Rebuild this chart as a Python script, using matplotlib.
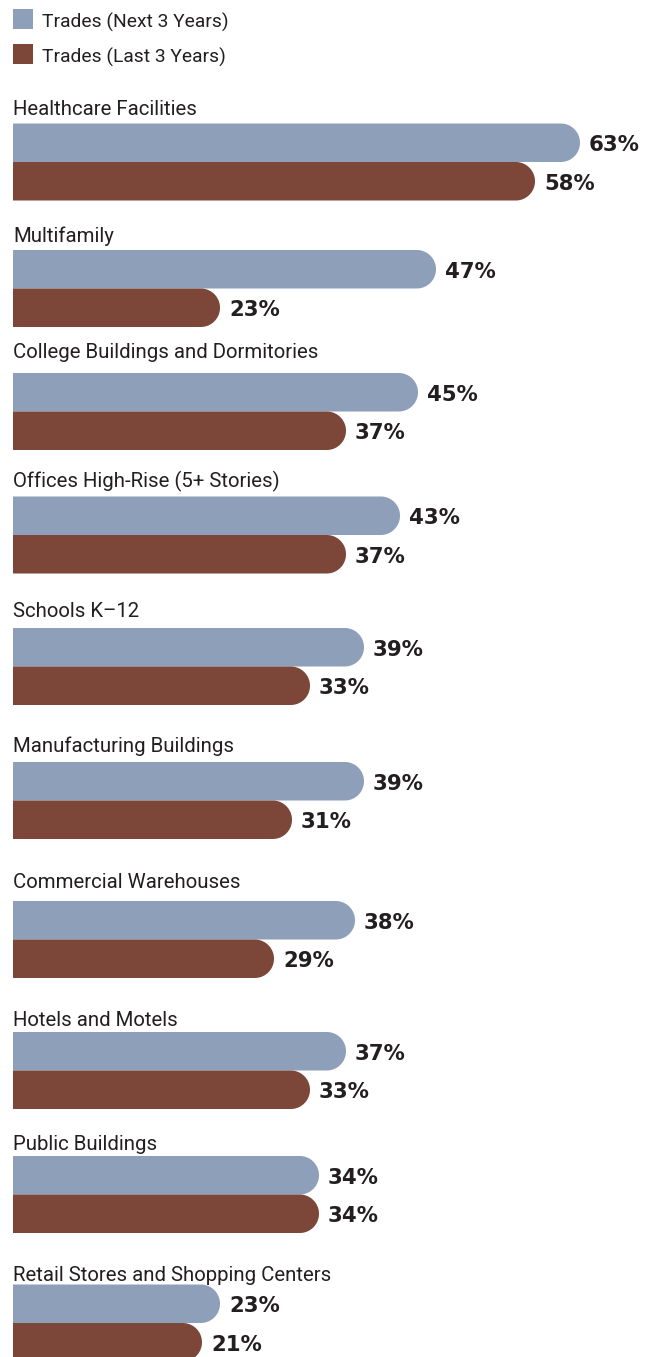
import matplotlib
matplotlib.use("Agg")
import matplotlib.pyplot as plt
from matplotlib.patches import Polygon, Rectangle
import numpy as np

# ---- data ----
categories = [
    "Healthcare Facilities",
    "Multifamily",
    "College Buildings and Dormitories",
    "Offices High-Rise (5+ Stories)",
    "Schools K\u201312",
    "Manufacturing Buildings",
    "Commercial Warehouses",
    "Hotels and Motels",
    "Public Buildings",
    "Retail Stores and Shopping Centers",
]
next_3_years = [63, 47, 45, 43, 39, 39, 38, 37, 34, 23]
last_3_years = [58, 23, 37, 37, 33, 31, 29, 33, 34, 21]
series_names = ["Trades (Next 3 Years)", "Trades (Last 3 Years)"]

# ---- layout (pixels) ----
W, H = 654, 1357
X0 = 13
PX_PER_PCT = 9.0
BAR_H = 38.5
bar_tops = [123.5, 250, 373, 496.5, 628, 762, 901, 1032, 1156, 1284.5]
label_baselines = [115, 242, 358, 487, 617, 752, 888, 1026, 1150, 1281]

BLUE = "#8E9FBA"
BROWN = "#7C4739"
TXT = "#231F20"

fig = plt.figure(figsize=(W / 100, H / 100), dpi=100)
fig.patch.set_facecolor("white")

# pixel-coordinate axes for layout text
pax = fig.add_axes([0, 0, 1, 1])
pax.set_xlim(0, W)
pax.set_ylim(H, 0)
pax.axis("off")

# data axes for bars (x in percent)
ax = fig.add_axes([0, 0, 1, 1])
ax.set_xlim(-X0 / PX_PER_PCT, (W - X0) / PX_PER_PCT)
ax.set_ylim(H, 0)
ax.axis("off")
ax.patch.set_alpha(0)

label_font = ["Roboto", "DejaVu Sans"]
rx = (BAR_H / 2) / PX_PER_PCT  # radius in percent units
ry = BAR_H / 2


def rounded_bar(value, top, color):
    theta = np.linspace(-np.pi / 2, np.pi / 2, 60)
    cx = value - rx
    cy = top + ry
    arc = np.column_stack([cx + rx * np.cos(theta), cy + ry * np.sin(theta)])
    pts = np.vstack([[0, top], arc, [0, top + BAR_H]])
    ax.add_patch(Polygon(pts, closed=True, facecolor=color, edgecolor="none"))


for i, cat in enumerate(categories):
    top = bar_tops[i]
    for j, (vals, color) in enumerate([(next_3_years, BLUE), (last_3_years, BROWN)]):
        v = vals[i]
        t = top + j * BAR_H
        rounded_bar(v, t, color)
        ax.text(v + 9 / PX_PER_PCT, t + BAR_H / 2 + 8.5, f"{v}%",
                ha="left", va="baseline", fontsize=15.3, fontweight="bold",
                color=TXT, family="DejaVu Sans")
    pax.text(X0, label_baselines[i], cat, ha="left", va="baseline",
             fontsize=14.7, color=TXT, family=label_font)

# legend
for k, (name, color) in enumerate(zip(series_names, [BLUE, BROWN])):
    y = 9 + k * 35
    pax.add_patch(Rectangle((X0, y), 20, 20, facecolor=color, edgecolor="none"))
    pax.text(42, y + 19, name, ha="left", va="baseline", fontsize=13.9,
             color=TXT, family=label_font)

fig.savefig("out.png", dpi=100, facecolor="white")
